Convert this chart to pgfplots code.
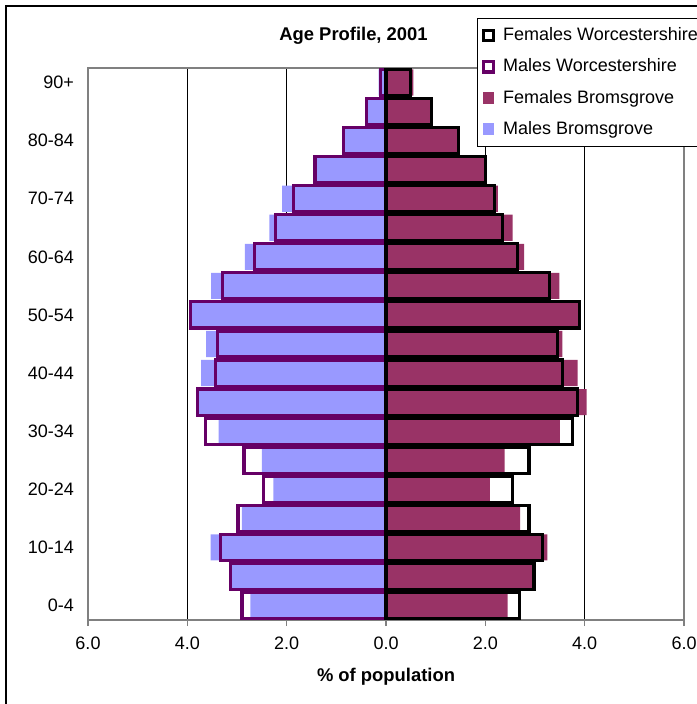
\documentclass[border=0pt]{standalone}
\usepackage{pgfplots}
\pgfplotsset{compat=1.18}
\usepackage{fontspec}
\setmainfont{Liberation Sans}
\definecolor{mb}{HTML}{9999FF}
\definecolor{fb}{HTML}{993366}
\definecolor{mw}{HTML}{660066}
\definecolor{gr}{HTML}{808080}
\pgfplotsset{
  outlinelegend/.style={legend image code/.code={\draw[##1, fill=none] (0.8pt,-2.6pt) rectangle (6pt,2.6pt);}},
  filllegend/.style={legend image code/.code={\fill[##1, draw=none] (0.6pt,-3pt) rectangle (6.4pt,3pt);}},
}
\begin{document}
\begin{tikzpicture}
\useasboundingbox (0,0) rectangle (348pt,352pt);
\draw[black, line width=0.6pt] (3pt,-20pt) -- (3pt,349pt) -- (380pt,349pt);
\begin{axis}[
  at={(44pt,42pt)}, anchor=south west,
  scale only axis, width=298pt, height=276pt,
  xmin=-6, xmax=6, ymin=-0.5, ymax=18.5,
  xtick={-6,-4,-2,0,2,4,6},
  xticklabels={6.0,4.0,2.0,0.0,2.0,4.0,6.0},
  ytick={0,2,...,18},
  yticklabels={0-4,10-14,20-24,30-34,40-44,50-54,60-64,70-74,80-84,90+},
  ytick style={draw=none},
  xtick pos=bottom, tick align=outside, major tick length=3pt,
  xtick style={gr, line width=0.6pt},
  xmajorgrids, grid style={black, line width=0.5pt},
  axis line style={gr, line width=0.6pt},
  /pgf/number format/assume math mode=true,
  ticklabel style={font=\fontsize{9}{10.5}\selectfont},
  yticklabel style={xshift=-0.5pt},
  xticklabel style={yshift=-2pt},
  title={Age Profile, 2001},
  title style={at={(0.4455,1.036)}, anchor=center, yshift=0pt, font=\fontsize{9.2}{11}\selectfont\bfseries},
  xlabel={\% of population},
  xlabel style={at={(axis description cs:0.5,-0.1033)}, anchor=center, font=\fontsize{9.2}{11}\selectfont\bfseries},
  legend style={at={(0.6527,1.0906)}, anchor=north west, draw=black, line width=0.6pt, fill=white,
    font=\fontsize{9}{10.5}\selectfont, row sep=3.6pt, inner xsep=2pt, inner ysep=2.5pt,
    /tikz/every odd column/.append style={column sep=2pt}},
  legend cell align=left,
  reverse legend,
]
\addplot[xbar, bar shift=0pt, bar width=0.9, fill=mb, draw=none, filllegend] coordinates {
(-2.73,0) (-3.13,1) (-3.53,2) (-2.90,3) (-2.27,4) (-2.50,5) (-3.37,6) (-3.82,7) (-3.72,8) (-3.62,9)
(-3.92,10) (-3.52,11) (-2.84,12) (-2.35,13) (-2.09,14) (-1.43,15) (-0.86,16) (-0.42,17) (-0.15,18)};
\addlegendentry{Males Bromsgrove}
\addplot[xbar, bar shift=0pt, bar width=0.9, fill=fb, draw=none, filllegend] coordinates {
(2.45,0) (2.96,1) (3.25,2) (2.70,3) (2.09,4) (2.39,5) (3.50,6) (4.04,7) (3.86,8) (3.55,9)
(3.88,10) (3.49,11) (2.78,12) (2.55,13) (2.25,14) (1.98,15) (1.46,16) (0.92,17) (0.55,18)};
\addlegendentry{Females Bromsgrove}
\addplot[xbar, bar shift=0pt, bar width=0.9, fill=none, draw=mw, line width=1.6pt, outlinelegend] coordinates {
(-2.90,0) (-3.13,1) (-3.33,2) (-2.98,3) (-2.46,4) (-2.86,5) (-3.64,6) (-3.80,7) (-3.43,8) (-3.39,9)
(-3.94,10) (-3.29,11) (-2.64,12) (-2.23,13) (-1.86,14) (-1.43,15) (-0.86,16) (-0.40,17) (-0.11,18)};
\addlegendentry{Males Worcestershire}
\addplot[xbar, bar shift=0pt, bar width=0.9, fill=none, draw=black, line width=1.6pt, outlinelegend] coordinates {
(2.68,0) (2.98,1) (3.15,2) (2.88,3) (2.55,4) (2.88,5) (3.76,6) (3.86,7) (3.55,8) (3.45,9)
(3.90,10) (3.29,11) (2.65,12) (2.35,13) (2.18,14) (2.00,15) (1.46,16) (0.92,17) (0.50,18)};
\addlegendentry{Females Worcestershire}
\end{axis}
\end{tikzpicture}
\end{document}
